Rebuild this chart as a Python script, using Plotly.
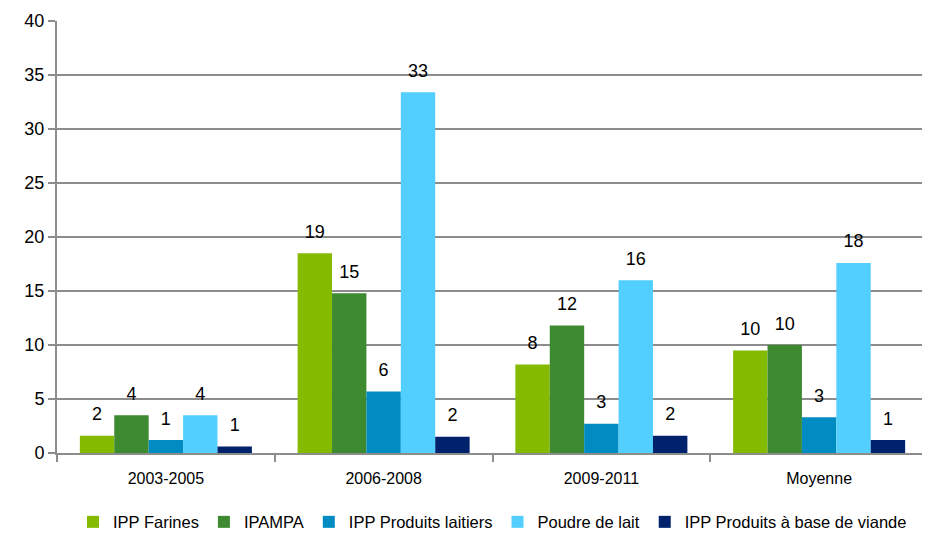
import plotly.graph_objects as go

categories = ['2003-2005', '2006-2008', '2009-2011', 'Moyenne']

ipp_farines = [1.6, 18.5, 8.2, 9.5]
ipampa = [3.5, 14.8, 11.8, 10.0]
ipp_laitiers = [1.2, 5.7, 2.7, 3.3]
poudre_lait = [3.5, 33.4, 16.0, 17.6]
ipp_viande = [0.6, 1.5, 1.6, 1.2]

series = [
    ('IPP Farines', ipp_farines, '#84BB00'),
    ('IPAMPA', ipampa, '#3E8A30'),
    ('IPP Produits laitiers', ipp_laitiers, '#008BC2'),
    ('Poudre de lait', poudre_lait, '#52CFFE'),
    ('IPP Produits à base de viande', ipp_viande, '#00216B'),
]


def label(v):
    # round half up, like the spreadsheet labels
    return str(int(v + 0.5))


fig = go.Figure()

for i, (name, vals, color) in enumerate(series):
    fig.add_trace(go.Bar(
        x=categories,
        y=vals,
        name=name,
        offsetgroup=str(i),
        marker=dict(color=color, line=dict(width=0)),
    ))

# value labels: invisible markers + text, grouped like the bars
for i, (name, vals, color) in enumerate(series):
    fig.add_trace(go.Scatter(
        x=categories,
        y=vals,
        mode='markers+text',
        offsetgroup=str(i),
        marker=dict(size=16, opacity=0),
        text=[label(v) for v in vals],
        textposition='top center',
        textfont=dict(size=18, color='black'),
        showlegend=False,
        hoverinfo='skip',
        cliponaxis=False,
    ))

# page body has an 8px margin, so the figure is 8px smaller than the window
fig.update_layout(
    width=922,
    height=527,
    barmode='group',
    scattermode='group',
    bargap=0.21,
    bargroupgap=0,
    plot_bgcolor='white',
    paper_bgcolor='white',
    font=dict(family='Liberation Sans, Arial', size=16, color='black'),
    margin=dict(l=49, r=2, t=13, b=82, autoexpand=False),
    showlegend=True,
    legend=dict(
        orientation='h',
        x=0.5,
        xanchor='center',
        y=-0.16,
        yanchor='middle',
        font=dict(size=16.5),
        itemwidth=30,
        traceorder='normal',
    ),
)

fig.update_xaxes(
    automargin=False,
    showgrid=False,
    showline=True,
    linewidth=2,
    linecolor='#8C8C8C',
    ticks='outside',
    tickson='boundaries',
    ticklen=7,
    tickwidth=2,
    tickcolor='#8C8C8C',
    ticklabelstandoff=10,
    tickfont=dict(size=16),
)

fig.update_yaxes(
    automargin=False,
    range=[0, 40],
    dtick=5,
    showgrid=True,
    gridwidth=2,
    gridcolor='#8C8C8C',
    showline=True,
    linewidth=2,
    linecolor='#8C8C8C',
    ticks='outside',
    ticklen=7,
    tickwidth=2,
    tickcolor='#8C8C8C',
    tickfont=dict(size=18),
    zeroline=False,
)

fig.write_html('out.html')
